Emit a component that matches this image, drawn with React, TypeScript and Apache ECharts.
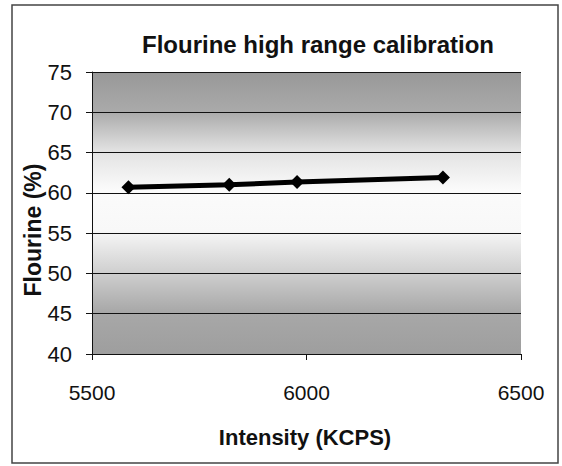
import React, { useEffect, useRef } from "react";
import * as echarts from "echarts";

const intensity = [5585, 5820, 5978, 6318];
const flourine = [60.7, 61.0, 61.35, 61.9];
const yTicks = [40, 45, 50, 55, 60, 65, 70, 75];
const xTicks = [5500, 6000, 6500];

export default function App() {
  const ref = useRef<HTMLDivElement>(null);
  useEffect(() => {
    if (!ref.current) return;
    const chart = echarts.init(ref.current, null, { renderer: "svg" });
    const font = "Liberation Sans, Arial, sans-serif";
    chart.setOption({
      animation: false,
      backgroundColor: "#ffffff",
      title: {
        text: "Flourine high range calibration",
        left: 313,
        top: 27,
        textAlign: "center",
        textStyle: { fontFamily: font, fontSize: 24, fontWeight: "bold", color: "#111" },
      },
      graphic: [
        {
          type: "rect",
          shape: { x: 12, y: 5, width: 546, height: 458 },
          style: { fill: "none", stroke: "#444", lineWidth: 1.5 },
          silent: true,
        },
        {
          type: "text",
          x: 33,
          y: 230,
          rotation: Math.PI / 2,
          style: {
            text: "Flourine (%)",
            fontFamily: font,
            fontSize: 23,
            fontWeight: "bold",
            fill: "#111",
            align: "center",
            verticalAlign: "middle",
          },
        },
        {
          type: "text",
          x: 305,
          y: 437,
          style: {
            text: "Intensity (KCPS)",
            fontFamily: font,
            fontSize: 22,
            fontWeight: "bold",
            fill: "#111",
            align: "center",
            verticalAlign: "middle",
          },
        },
      ],
      grid: {
        left: 92,
        right: 41,
        top: 72,
        bottom: 112,
        show: true,
        borderWidth: 0,
        backgroundColor: new echarts.graphic.LinearGradient(0, 0, 0, 1, [
          { offset: 0, color: "#989898" },
          { offset: 0.14, color: "#aaaaaa" },
          { offset: 0.28, color: "#e2e2e2" },
          { offset: 0.42, color: "#fbfbfb" },
          { offset: 0.56, color: "#f8f8f8" },
          { offset: 0.7, color: "#d2d2d2" },
          { offset: 0.85, color: "#a8a8a8" },
          { offset: 1, color: "#9e9e9e" },
        ]),
      },
      xAxis: {
        type: "value",
        min: xTicks[0],
        max: xTicks[xTicks.length - 1],
        interval: 500,
        axisLine: { show: true, onZero: false, lineStyle: { color: "#111", width: 1 } },
        axisTick: { show: true, length: 6, lineStyle: { color: "#111" } },
        axisLabel: {
          margin: 28,
          fontFamily: font,
          fontSize: 21,
          color: "#111",
          formatter: (v: number) => String(v),
        },
        splitLine: { show: false },
      },
      yAxis: {
        type: "value",
        min: yTicks[0],
        max: yTicks[yTicks.length - 1],
        interval: 5,
        axisLine: { show: true, lineStyle: { color: "#111", width: 1 } },
        axisTick: { show: true, length: 6, lineStyle: { color: "#111" } },
        axisLabel: { margin: 20, fontFamily: font, fontSize: 22, color: "#111" },
        splitLine: { show: true, lineStyle: { color: "#111", width: 1 } },
      },
      series: [
        {
          type: "line",
          data: intensity.map((x, i) => [x, flourine[i]]),
          lineStyle: { color: "#000", width: 5 },
          itemStyle: { color: "#000" },
          symbol: "diamond",
          symbolSize: 14,
        },
      ],
    });
    return () => chart.dispose();
  }, []);
  return (
    <div
      ref={ref}
      style={{ position: "fixed", left: 0, top: 0, width: 562, height: 466 }}
    />
  );
}
